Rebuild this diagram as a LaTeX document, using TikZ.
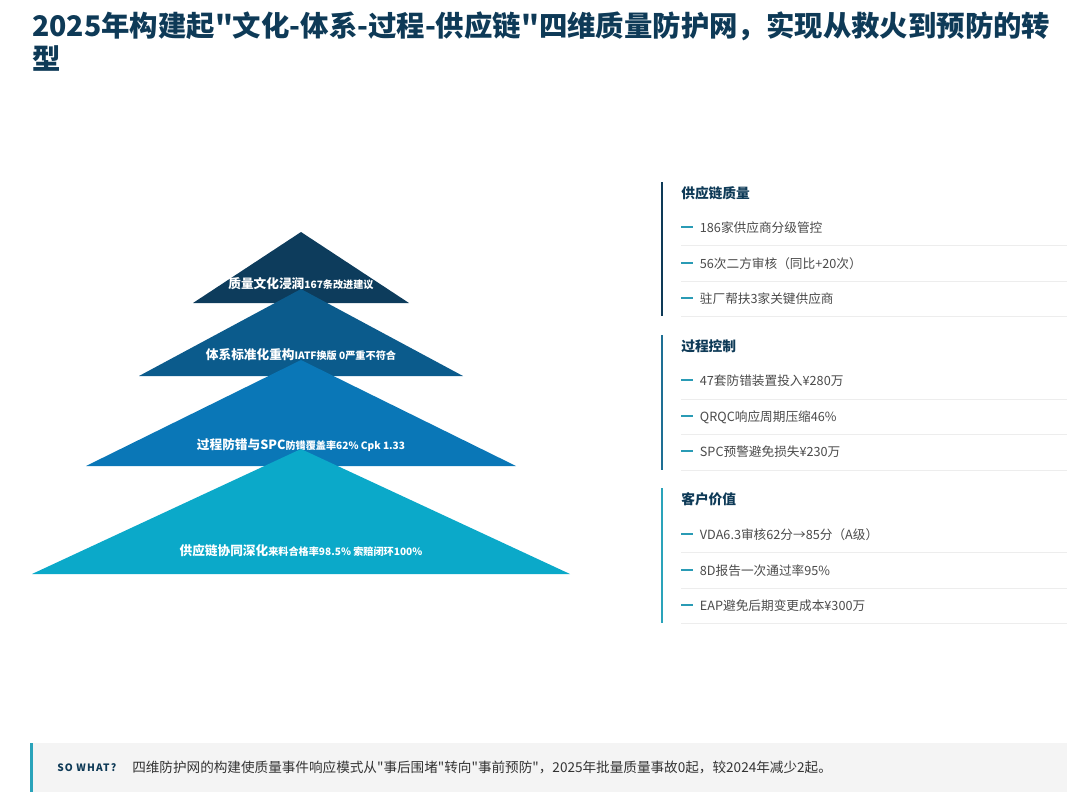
\documentclass[tikz,border=0pt]{standalone}
\usepackage{fontspec}
\setmainfont{Noto Sans CJK SC}
\newfontfamily\plainqf{Noto Sans CJK SC}
\usepackage{xcolor}

\definecolor{navy}{HTML}{0E3A57}
\definecolor{tri1}{HTML}{0D3C5C}
\definecolor{tri2}{HTML}{0B5B8C}
\definecolor{tri3}{HTML}{0A77B7}
\definecolor{tri4}{HTML}{0BA9C9}
\definecolor{bar2}{HTML}{1E6F94}
\definecolor{bar3}{HTML}{2AA3BA}
\definecolor{dashc}{HTML}{2A9BB5}
\definecolor{itemc}{HTML}{4A4A4A}
\definecolor{sepc}{HTML}{EDEDED}
\definecolor{boxc}{HTML}{F4F4F4}

\newcommand{\qq}{{\plainqf\symbol{34}}}
\newcommand{\itemdash}{\textcolor{dashc}{\rule[0.32em]{9pt}{1.4pt}}\hspace{5pt}}
\newcommand{\subtxt}[1]{{\fontsize{7.6}{9}\selectfont #1}}

\begin{document}
\begin{tikzpicture}[
    x=0.75pt, y=-0.75pt,
    tritext/.style={
        text=white,
        font=\fontsize{9.5}{11}\selectfont\bfseries,
        anchor=base,
        inner sep=0pt
    },
    head/.style={
        text=navy,
        font=\fontsize{10.3}{12}\selectfont\bfseries,
        anchor=base west,
        inner sep=0pt
    },
    item/.style={
        text=itemc,
        font=\fontsize{9.5}{11}\selectfont,
        anchor=base west,
        inner sep=0pt
    },
    sep/.style={sepc, line width=0.75pt}
]
\useasboundingbox (0,0) rectangle (1072,808);

% Titel
\node[anchor=base west, inner sep=0pt, text=navy,
      font=\fontsize{21.3}{26}\selectfont\bfseries] (title1) at (32,36)
    {2025年构建起\qq 文化-体系-过程-供应链\qq 四维质量防护网，实现从救火到预防的转};
\node[anchor=base west, inner sep=0pt, text=navy,
      font=\fontsize{21.3}{26}\selectfont\bfseries] (title2) at (32,69) {型};

% Piramide
\fill[tri1] (301,232) -- (409,303) -- (193,303) -- cycle;
\node[tritext] (t1) at (301,288) {质量文化浸润\subtxt{167条改进建议}};

\fill[tri2] (301,289) -- (463,376) -- (139,376) -- cycle;
\node[tritext] (t2) at (301,359) {体系标准化重构\subtxt{IATF换版 0严重不符合}};

\fill[tri3] (301,360) -- (516,466) -- (86,466) -- cycle;
\node[tritext] (t3) at (301,449) {过程防错与SPC\subtxt{防错覆盖率62\% Cpk 1.33}};

\fill[tri4] (301,449) -- (570,574) -- (32,574) -- cycle;
\node[tritext] (t4) at (301,555) {供应链协同深化\subtxt{来料合格率98.5\% 索赔闭环100\%}};

% Rechterkolom
\draw[navy, line width=2pt] (662,182) -- (662,316);
\draw[bar2, line width=2pt] (662,335) -- (662,470);
\draw[bar3, line width=2pt] (662,488) -- (662,623);

\foreach \y in {245,281,316, 399,434,470, 552,588,623}
    \draw[sep] (681,\y) -- (1067,\y);

\node[head] (g1) at (681,198) {供应链质量};
\node[item] (g1a) at (681,232) {\itemdash 186家供应商分级管控};
\node[item] (g1b) at (681,268) {\itemdash 56次二方审核（同比+20次）};
\node[item] (g1c) at (681,303) {\itemdash 驻厂帮扶3家关键供应商};

\node[head] (g2) at (681,351) {过程控制};
\node[item] (g2a) at (681,385) {\itemdash 47套防错装置投入¥280万};
\node[item] (g2b) at (681,421) {\itemdash QRQC响应周期压缩46\%};
\node[item] (g2c) at (681,456) {\itemdash SPC预警避免损失¥230万};

\node[head] (g3) at (681,504) {客户价值};
\node[item] (g3a) at (681,539) {\itemdash VDA6.3审核62分→85分（A级）};
\node[item] (g3b) at (681,575) {\itemdash 8D报告一次通过率95\%};
\node[item] (g3c) at (681,610) {\itemdash EAP避免后期变更成本¥300万};

% So what
\fill[boxc] (30,743) rectangle (1067,792);
\fill[bar3] (30,743) rectangle (33,792);
\node[anchor=base west, inner sep=0pt, text=navy,
      font=\fontsize{7.6}{9}\selectfont\bfseries\addfontfeature{LetterSpace=12}] (sw) at (57,771) {SO WHAT?};
\node[anchor=base west, inner sep=0pt, text=black!80,
      font=\fontsize{10.2}{12}\selectfont] (swtxt) at (132,772)
    {四维防护网的构建使质量事件响应模式从\qq 事后围堵\qq 转向\qq 事前预防\qq ，2025年批量质量事故0起，较2024年减少2起。};

\end{tikzpicture}
\end{document}
